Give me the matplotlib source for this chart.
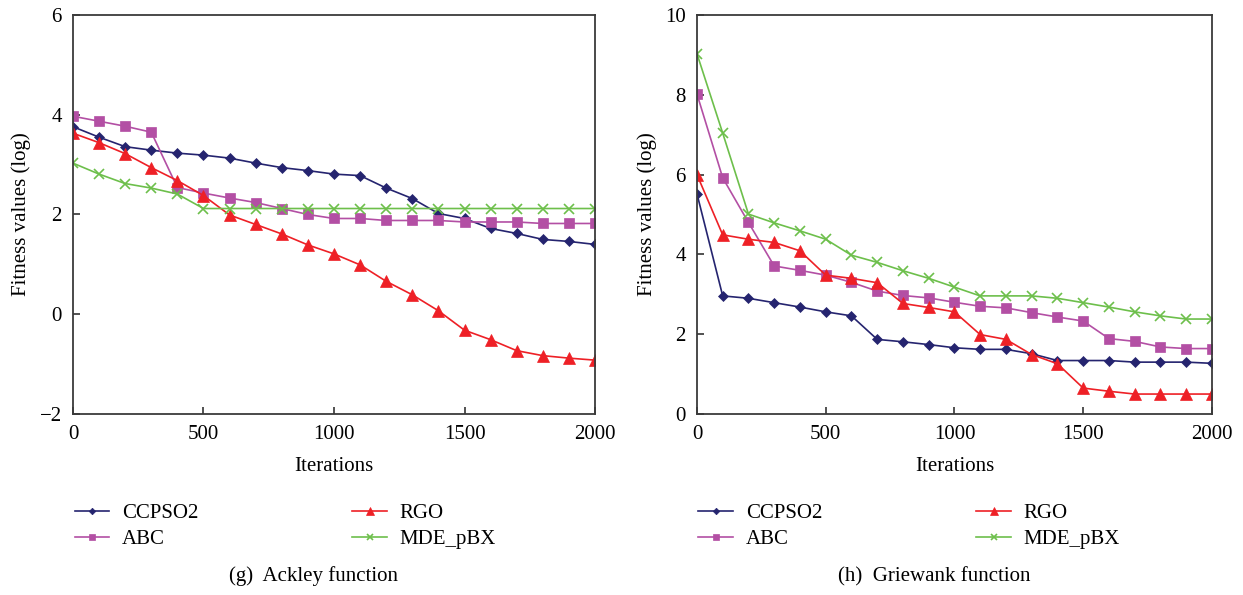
import matplotlib
matplotlib.use("Agg")
import matplotlib.pyplot as plt

plt.rcParams['font.family'] = ['Liberation Serif', 'DejaVu Serif']
plt.rcParams['mathtext.fontset'] = 'stix'

iterations = [0, 100, 200, 300, 400, 500, 600, 700, 800, 900, 1000,
              1100, 1200, 1300, 1400, 1500, 1600, 1700, 1800, 1900, 2000]

# Ackley function
ackley_ccpso2 = [3.76, 3.55, 3.36, 3.29, 3.23, 3.19, 3.13, 3.03, 2.94, 2.88, 2.81,
                 2.78, 2.53, 2.32, 2.02, 1.92, 1.72, 1.62, 1.50, 1.46, 1.40]
ackley_abc = [3.97, 3.87, 3.77, 3.65, 2.54, 2.43, 2.33, 2.24, 2.12, 2.00, 1.92,
              1.92, 1.88, 1.88, 1.88, 1.85, 1.85, 1.85, 1.82, 1.82, 1.82]
ackley_rgo = [3.63, 3.44, 3.22, 2.94, 2.68, 2.38, 1.99, 1.80, 1.61, 1.39, 1.21,
              0.99, 0.66, 0.39, 0.07, -0.32, -0.51, -0.73, -0.83, -0.88, -0.92]
ackley_mde = [3.03, 2.81, 2.62, 2.53, 2.41, 2.12, 2.12, 2.12, 2.12, 2.12, 2.12,
              2.12, 2.12, 2.12, 2.12, 2.12, 2.12, 2.12, 2.12, 2.12, 2.12]

# Griewank function
griewank_ccpso2 = [5.52, 2.96, 2.90, 2.79, 2.68, 2.56, 2.46, 1.87, 1.81, 1.74, 1.66,
                   1.62, 1.62, 1.51, 1.34, 1.34, 1.34, 1.30, 1.30, 1.30, 1.27]
griewank_abc = [8.02, 5.92, 4.80, 3.71, 3.60, 3.48, 3.30, 3.08, 2.97, 2.91, 2.80,
                2.70, 2.66, 2.54, 2.43, 2.33, 1.89, 1.82, 1.68, 1.64, 1.64]
griewank_rgo = [6.00, 4.49, 4.38, 4.30, 4.09, 3.48, 3.40, 3.29, 2.77, 2.67, 2.56,
                1.99, 1.87, 1.49, 1.26, 0.65, 0.57, 0.50, 0.50, 0.50, 0.50]
griewank_mde = [9.03, 7.04, 5.01, 4.79, 4.59, 4.38, 3.98, 3.80, 3.59, 3.40, 3.18,
                2.96, 2.96, 2.96, 2.90, 2.79, 2.68, 2.56, 2.46, 2.38, 2.38]

names = ['CCPSO2', 'ABC', 'RGO', 'MDE_pBX']
colors = ['#25246f', '#b34fa4', '#ee2026', '#6dbf4b']
markers = ['D', 's', '^', 'x']
msizes = [5.5, 7, 8.5, 7]

x_ticks = [0, 500, 1000, 1500, 2000]


def draw_panel(ax, series, yticks, caption):
    for vals, name, c, m, ms in zip(series, names, colors, markers, msizes):
        ax.plot(iterations, vals, color=c, marker=m, markersize=ms, linewidth=1.2,
                markeredgewidth=1.2 if m == 'x' else 0.5, label=name)
    ax.set_xlim(0, 2000)
    ax.set_ylim(yticks[0], yticks[-1])
    ax.set_xticks(x_ticks)
    ax.set_yticks(yticks)
    ax.set_yticklabels([str(t).replace('-', '\u2212') for t in yticks])
    ax.tick_params(direction='in', length=5, width=1.2, labelsize=15,
                   colors='#333333', labelcolor='black', pad=8)
    for sp in ax.spines.values():
        sp.set_color('#3a3a3a')
        sp.set_linewidth(1.3)
    ax.set_xlabel('Iterations', fontsize=15, labelpad=9)
    ax.set_ylabel('Fitness values (log)', fontsize=15, labelpad=6)
    ax.legend(ncol=2, loc='upper left', bbox_to_anchor=(0.003, -0.225),
              frameon=False, fontsize=15, borderaxespad=0, borderpad=0,
              handlelength=1.65, handletextpad=0.62, columnspacing=7.4,
              labelspacing=0.3, markerscale=0.6)
    ax.text(0.46, -0.407, caption, transform=ax.transAxes, ha='center',
            va='center', fontsize=15)


fig = plt.figure(figsize=(12.43, 5.95), dpi=100)

ax1 = fig.add_axes([0.0587, 0.3042, 0.420, 0.6706])
draw_panel(ax1, [ackley_ccpso2, ackley_abc, ackley_rgo, ackley_mde],
           [-2, 0, 2, 4, 6], '(g)  Ackley function')

ax2 = fig.add_axes([0.5607, 0.3042, 0.4143, 0.6706])
draw_panel(ax2, [griewank_ccpso2, griewank_abc, griewank_rgo, griewank_mde],
           [0, 2, 4, 6, 8, 10], '(h)  Griewank function')

fig.savefig('out.png', dpi=100)
